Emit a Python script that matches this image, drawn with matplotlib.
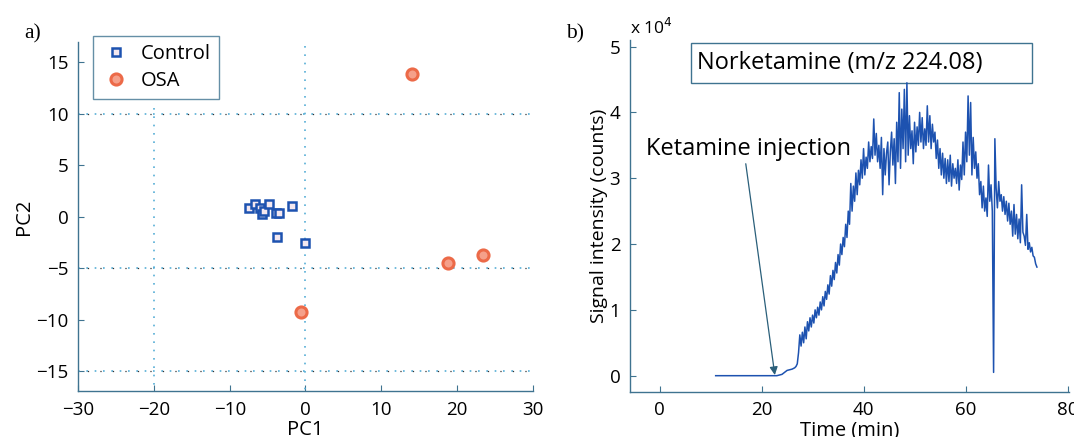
import numpy as np
import matplotlib
matplotlib.use("Agg")
import matplotlib.pyplot as plt
from matplotlib.patches import Rectangle

# ---- data: panel a (PCA scores) ----
control_pc1 = [-7.4, -6.7, -6.0, -5.7, -5.5, -4.8, -3.85, -3.5, -1.8, -3.75, 0.0]
control_pc2 = [0.85, 1.2, 0.85, 0.25, 0.6, 1.2, 0.4, 0.4, 1.1, -2.0, -2.5]
osa_pc1 = [14.1, 18.8, 23.5, -0.6]
osa_pc2 = [13.9, -4.45, -3.7, -9.2]
hlines_y = [10, -5, -15]
vlines_x = [-20, 0]

# ---- data: panel b (signal trace, x 10^4 counts) ----
base_t = [11, 23, 24, 25]
base_v = [0.0, 0.0, 0.02, 0.08]
# 4 samples per minute starting at 26.0 min
trace_rows = [
    [0.10, 0.11, 0.12, 0.14],  # 26
    [0.18, 0.35, 0.62, 0.45],
    [0.66, 0.50, 0.74, 0.56],
    [0.82, 0.68, 0.88, 0.74],
    [0.92, 0.80, 1.00, 0.88],  # 30
    [1.04, 0.92, 1.12, 1.00],
    [1.20, 1.06, 1.28, 1.16],
    [1.38, 1.24, 1.52, 1.36],
    [1.60, 1.46, 1.72, 1.56],
    [1.84, 1.68, 2.00, 1.84],  # 35
    [2.10, 1.96, 2.30, 2.10],
    [2.50, 2.30, 2.92, 2.50],
    [2.88, 2.65, 3.08, 2.75],
    [3.12, 2.90, 3.28, 3.00],
    [3.45, 3.05, 3.32, 3.15],  # 40
    [3.55, 3.25, 3.48, 3.30],
    [3.90, 3.35, 3.68, 3.25],
    [3.50, 3.15, 3.62, 2.75],
    [3.45, 3.05, 3.38, 3.55],
    [2.90, 3.40, 3.70, 3.20],  # 45
    [3.60, 2.92, 3.85, 3.25],
    [4.30, 3.15, 4.05, 3.45],
    [4.35, 3.25, 4.45, 3.35],
    [3.95, 3.45, 3.72, 3.22],
    [3.85, 3.40, 3.78, 3.50],  # 50
    [4.00, 3.55, 3.92, 3.45],
    [3.75, 3.50, 4.10, 3.55],
    [3.95, 3.45, 3.82, 3.55],
    [3.70, 3.30, 3.58, 3.15],
    [3.45, 3.05, 3.38, 3.00],  # 55
    [3.30, 2.92, 3.28, 2.95],
    [3.35, 2.88, 3.22, 3.00],
    [3.15, 2.92, 3.28, 2.82],
    [3.20, 2.98, 3.55, 3.05],
    [3.70, 3.25, 4.25, 3.35],  # 60
    [4.15, 3.05, 3.62, 3.15],
    [3.40, 3.00, 3.22, 2.75],
    [2.95, 2.55, 2.88, 2.50],
    [2.70, 2.42, 3.20, 2.65],
    [2.90, 2.50, 0.05, 3.60],  # 65
    [2.85, 2.55, 2.95, 2.65],
    [2.75, 2.50, 2.72, 2.45],
    [2.65, 2.35, 2.62, 2.30],
    [2.50, 2.12, 2.60, 2.15],
    [2.45, 2.08, 2.38, 2.02],  # 70
    [2.90, 2.18, 2.12, 1.98],
    [2.45, 1.92, 2.02, 1.88],
    [1.95, 1.82, 1.80, 1.70],
    [1.65],                    # 74
]
trace_start = 26.0
trace_step = 0.25

serif = ['Liberation Serif', 'DejaVu Serif']
plt.rcParams['font.family'] = ['Open Sans', 'DejaVu Sans']
plt.rcParams['axes.unicode_minus'] = True

spine_col = '#3f7390'
blue = '#1d52b0'
orange = '#ec6a48'
grid_col = '#56aed6'

fig = plt.figure(figsize=(10.74, 4.37), dpi=100)

# ---------------- panel a ----------------
ax1 = fig.add_axes([0.0729, 0.1053, 0.4231, 0.7993])
for y in hlines_y:
    ax1.plot([-30, 30], [y, y], ls=(0, (1, 4)), color=grid_col, lw=1.2)
    ax1.plot([-30, 30], [y, y], ls=(2.5, (1, 9)), color='#333333', lw=0.9)
ax1.plot([vlines_x[0]] * 2, [10.6, -17], ls=(0, (1, 4)), color=grid_col, lw=1.2)
ax1.plot([vlines_x[1]] * 2, [16.6, -17], ls=(0, (1, 4)), color=grid_col, lw=1.2)

ax1.plot(control_pc1, control_pc2, ls='none', marker='s', ms=5.5,
         mfc='#f4e8f0', mec=blue, mew=1.8, label='Control')
ax1.plot(osa_pc1, osa_pc2, ls='none', marker='o', ms=8,
         mfc='#f5a08a', mec=orange, mew=2.2, label='OSA')

ax1.set_xlim(-30, 30)
ax1.set_ylim(-16.9, 17)
ax1.set_xticks([-30, -20, -10, 0, 10, 20, 30])
ax1.set_yticks([-15, -10, -5, 0, 5, 10, 15])
ax1.set_xlabel('PC1', fontsize=14.5, labelpad=1)
ax1.set_ylabel('PC2', fontsize=14.5, labelpad=2)
leg = ax1.legend(loc='upper left', bbox_to_anchor=(0.033, 1.016), fontsize=14.5,
                 frameon=True, fancybox=False, handletextpad=0.45,
                 borderpad=0.4, labelspacing=0.35, handlelength=1.5,
                 borderaxespad=0)
leg.get_frame().set_edgecolor(spine_col)
leg.get_frame().set_linewidth(1.0)
fig.text(0.023, 0.912, 'a)', fontsize=15.5, family=serif)

# ---------------- panel b ----------------
ax2 = fig.add_axes([0.5866, 0.1037, 0.4088, 0.8048])
trace_v = [v for row in trace_rows for v in row]
trace_t = trace_start + trace_step * np.arange(len(trace_v))
t_all = np.concatenate([base_t, trace_t])
v_all = np.concatenate([base_v, trace_v])
ax2.plot(t_all, v_all, color=blue, lw=1.1)

ax2.set_xlim(-5.8, 80.3)
ax2.set_ylim(-0.243, 5.1)
ax2.set_xticks([0, 20, 40, 60, 80])
ax2.set_yticks([0, 1, 2, 3, 4, 5])
ax2.set_xlabel('Time (min)', fontsize=14.5, labelpad=1)
ax2.set_ylabel('Signal intensity (counts)', fontsize=14, labelpad=1)
fig.text(0.587, 0.922, r'x 10$^4$', fontsize=12.5)
fig.text(0.527, 0.912, 'b)', fontsize=15.5, family=serif)

ax2.add_patch(Rectangle((0.1383, 0.8786), 0.7763, 0.1137, transform=ax2.transAxes,
                        fill=False, ec=spine_col, lw=1.0, clip_on=False))
ax2.text(0.152, 0.9355, 'Norketamine (m/z 224.08)', transform=ax2.transAxes,
         fontsize=17, va='center', ha='left')
ax2.text(0.0355, 0.69, 'Ketamine injection', transform=ax2.transAxes,
         fontsize=17, va='center', ha='left')
ax2.annotate('', xy=(22.6, 0.01), xytext=(16.9, 3.22),
             arrowprops=dict(arrowstyle='-|>', color='#2a5f7a', lw=0.9,
                             mutation_scale=12, shrinkA=0, shrinkB=0))

for ax in (ax1, ax2):
    for side in ('top', 'right'):
        ax.spines[side].set_visible(False)
    for side in ('left', 'bottom'):
        ax.spines[side].set_color(spine_col)
        ax.spines[side].set_linewidth(1.0)
    ax.tick_params(direction='in', length=4, color=spine_col, labelsize=13.5,
                   pad=7)

fig.savefig('out.png', dpi=100)
